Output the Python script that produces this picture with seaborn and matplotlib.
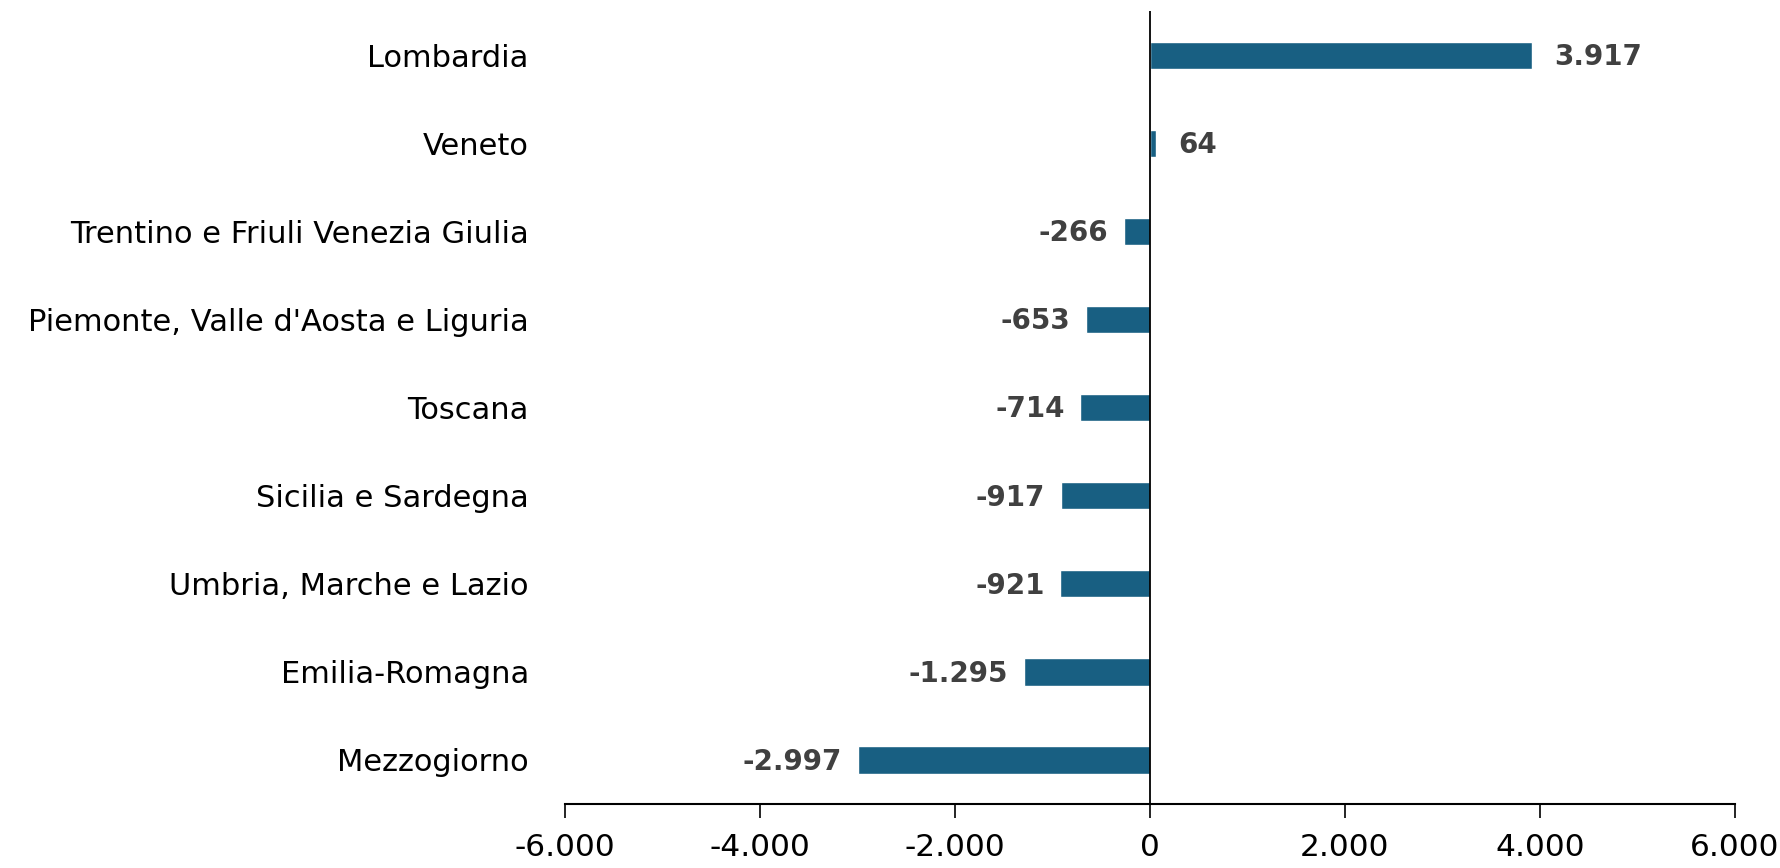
import pandas as pd
import numpy as np
import matplotlib
matplotlib.use("Agg")
import matplotlib.pyplot as plt
import seaborn as sns

# dati: saldo per area
regioni = ["Lombardia", "Veneto", "Trentino e Friuli Venezia Giulia",
           "Piemonte, Valle d'Aosta e Liguria", "Toscana", "Sicilia e Sardegna",
           "Umbria, Marche e Lazio", "Emilia-Romagna", "Mezzogiorno"]
valori = [3917, 64, -266, -653, -714, -917, -921, -1295, -2997]
xticks = [-6000, -4000, -2000, 0, 2000, 4000, 6000]

COLORE = "#185f82"
sns.set_theme(style="white")
plt.rcParams['font.family'] = ['DejaVu Sans']


def fmt_it(v):
    # separatore delle migliaia all'italiana
    s = f"{abs(v):,.0f}".replace(",", ".")
    return ("-" if v < 0 else "") + s


df = pd.DataFrame({"regione": regioni, "valore": valori})

fig = plt.figure(figsize=(17.8, 8.68), dpi=100)
ax = fig.add_axes([0.3174, 0.0737, 0.6573, 0.9133])
sns.barplot(data=df, x="valore", y="regione", orient="h", color=COLORE,
            width=0.31, saturation=1, ax=ax)

ax.set_xlim(-6000, 6000)
ax.set_ylim(8.5, -0.5)
ax.set_xticks(xticks)
ax.set_xticklabels([fmt_it(t) for t in xticks], fontsize=22.5)
ax.tick_params(axis="x", bottom=True, direction="out", length=10, width=1.2,
               pad=11, colors="black")
ax.tick_params(axis="y", left=False, pad=20, labelsize=22, labelcolor="black")
ax.set_xlabel("")
ax.set_ylabel("")
for s in ["top", "right", "left"]:
    ax.spines[s].set_visible(False)
ax.spines["bottom"].set_color("black")
ax.spines["bottom"].set_linewidth(1.5)
ax.axvline(0, color="black", lw=1.3)

for i, v in enumerate(valori):
    if v >= 0:
        ax.text(v + 225, i + 0.02, fmt_it(v), ha="left", va="center", fontsize=20,
                fontweight="bold", color="#404040")
    else:
        ax.text(v - 160, i + 0.02, fmt_it(v), ha="right", va="center", fontsize=20,
                fontweight="bold", color="#404040")

fig.savefig("out.png", dpi=100)
